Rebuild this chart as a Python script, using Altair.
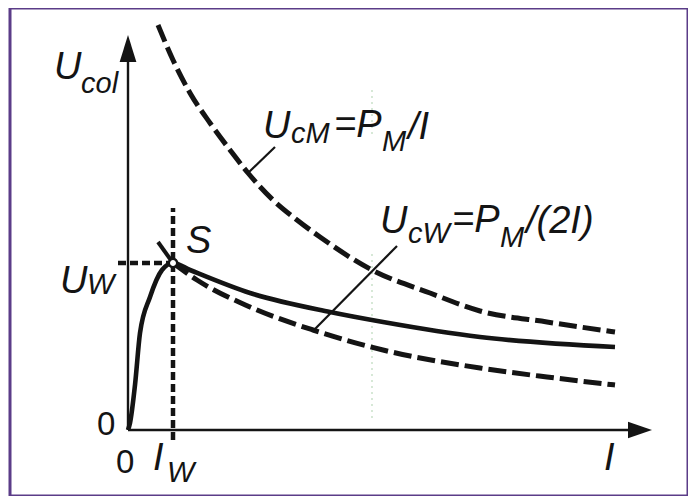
import altair as alt
import pandas as pd

# ---- data (arbitrary schematic units: I horizontal, U vertical) ----
# upper dashed hyperbola  U_cM = P_M / I
cm_I = [0.60, 0.90, 1.24, 1.64, 2.04, 2.40, 2.90, 3.38, 3.84, 4.88, 6.04, 7.04, 8.38, 9.74]
cm_U = [10.125, 9.25, 8.425, 7.675, 7.0, 6.425, 5.75, 5.25, 4.825, 4.0, 3.425, 2.975, 2.7, 2.45]

# solid collector curve U_col(I)
col_I = [0.0, 0.04, 0.14, 0.24, 0.44, 0.68, 0.90, 1.24, 2.44, 4.04, 5.10, 7.04, 9.74]
col_U = [0.0, 0.175, 1.125, 2.425, 3.325, 4.0, 4.175, 4.0, 3.425, 2.95, 2.7, 2.325, 2.075]

# lower dashed hyperbola  U_cW = P_M / (2I)
cw_I = [0.90, 1.38, 2.44, 3.70, 5.10, 7.04, 8.38, 9.74]
cw_U = [4.175, 3.75, 3.075, 2.5, 2.0, 1.55, 1.325, 1.125]
# short solid piece of that hyperbola above S
cws_I = [0.60, 0.90]
cws_U = [4.70, 4.175]

# working point S
S_I = [0.90]
S_U = [4.175]

# axis extents
x_axis_end = 10.0
y_axis_end = 9.2
x_arrow = 10.24
y_arrow = 9.54

# guide lines to U_W and I_W
uw_from = -0.2
iw_from = -0.25
iw_to = 5.55

# leader lines of the two formulas
lead_cm_I = [2.40, 2.94]
lead_cm_U = [6.425, 7.075]
lead_cw_I = [3.70, 5.38]
lead_cw_U = [2.475, 4.60]

# faint scan artefact (dotted vertical)
ghost_I = 4.88
ghost_lo = [0.30, 7.40]
ghost_hi = [4.40, 8.50]

# text pieces
big_text = ["U", "U", "U", "=P", "/I", "U", "=P", "/(2I)", "S", "I", "I"]
big_I = [-1.48, -1.36, 2.70, 4.12, 5.60, 5.04, 6.48, 7.96, 1.16, 0.50, 9.52]
big_U = [8.775, 3.425, 7.30, 7.325, 7.275, 4.925, 4.95, 4.925, 4.425, -1.0, -1.0]

sub_text = ["col", "W", "cM", "M", "cW", "M", "W"]
sub_I = [-0.94, -0.82, 3.26, 5.08, 5.60, 7.44, 0.78]
sub_U = [8.425, 3.40, 7.175, 6.975, 4.675, 4.575, -1.30]

zero_text = ["0", "0"]
zero_I = [-0.62, -0.24]
zero_U = [-0.125, -1.075]

# ---- chart ----
INK = "#141414"
FONT = "Liberation Sans"
xs = alt.Scale(domain=[-2.36, 11.2], nice=False, zero=False)
ys = alt.Scale(domain=[-1.65, 10.55], nice=False, zero=False)
X = alt.X("I:Q", scale=xs, axis=None)
Y = alt.Y("U:Q", scale=ys, axis=None)

ghost = alt.Chart(pd.DataFrame({"I": [ghost_I, ghost_I], "U": ghost_lo, "U2": ghost_hi})).mark_rule(
    color="#bcd9bc", strokeWidth=1.2, strokeDash=[2, 4]
).encode(x=X, y=Y, y2="U2:Q")

cm = alt.Chart(pd.DataFrame({"I": cm_I, "U": cm_U})).mark_line(
    color=INK, strokeWidth=5, strokeDash=[18, 6], interpolate="monotone"
).encode(x=X, y=Y)

col = alt.Chart(pd.DataFrame({"I": col_I, "U": col_U})).mark_line(
    color=INK, strokeWidth=4.6, interpolate="monotone"
).encode(x=X, y=Y)

cw = alt.Chart(pd.DataFrame({"I": cw_I, "U": cw_U})).mark_line(
    color=INK, strokeWidth=5, strokeDash=[18, 6], interpolate="monotone"
).encode(x=X, y=Y)

cws = alt.Chart(pd.DataFrame({"I": cws_I, "U": cws_U})).mark_line(
    color=INK, strokeWidth=4
).encode(x=X, y=Y)

axes_df = pd.DataFrame({"I": [0.0], "U": [0.0], "I2": [x_axis_end], "U2": [y_axis_end]})
x_axis = alt.Chart(axes_df).mark_rule(color=INK, strokeWidth=2.4).encode(
    x=X, x2="I2:Q", y=Y)
y_axis = alt.Chart(axes_df).mark_rule(color=INK, strokeWidth=2.4).encode(
    x=X, y=Y, y2="U2:Q")

x_head = alt.Chart(pd.DataFrame({"I": [x_arrow], "U": [0.0]})).mark_point(
    shape="M 1 0 L -1 -0.68 L -1 0.68 Z", size=576, filled=True, color=INK, opacity=1
).encode(x=X, y=Y)
y_head = alt.Chart(pd.DataFrame({"I": [0.0], "U": [y_arrow]})).mark_point(
    shape="M 0 -1 L 0.62 1 L -0.62 1 Z", size=729, filled=True, color=INK, opacity=1
).encode(x=X, y=Y)

guide_df = pd.DataFrame({"I": S_I, "U": S_U, "Ia": [uw_from], "Ub": [iw_from], "Ut": [iw_to]})
uw_line = alt.Chart(guide_df).mark_rule(color=INK, strokeWidth=4.5, strokeDash=[8, 4]).encode(
    x=alt.X("Ia:Q", scale=xs, axis=None), x2="I:Q", y=Y)
iw_line = alt.Chart(guide_df).mark_rule(color=INK, strokeWidth=4.5, strokeDash=[8, 4]).encode(
    x=X, y=alt.Y("Ub:Q", scale=ys, axis=None), y2="Ut:Q")

lead_cm = alt.Chart(pd.DataFrame({"I": lead_cm_I, "U": lead_cm_U})).mark_line(
    color=INK, strokeWidth=2.2).encode(x=X, y=Y)
lead_cw = alt.Chart(pd.DataFrame({"I": lead_cw_I, "U": lead_cw_U})).mark_line(
    color=INK, strokeWidth=2.2).encode(x=X, y=Y)

s_pt = alt.Chart(pd.DataFrame({"I": S_I, "U": S_U})).mark_point(
    shape="circle", size=70, filled=True, fill="white", stroke=INK, strokeWidth=2.4, opacity=1
).encode(x=X, y=Y)

big = alt.Chart(pd.DataFrame({"t": big_text, "I": big_I, "U": big_U})).mark_text(
    font=FONT, fontStyle="italic", fontSize=38, align="left", baseline="alphabetic", color=INK
).encode(x=X, y=Y, text="t:N")
sub = alt.Chart(pd.DataFrame({"t": sub_text, "I": sub_I, "U": sub_U})).mark_text(
    font=FONT, fontStyle="italic", fontSize=29, align="left", baseline="alphabetic", color=INK
).encode(x=X, y=Y, text="t:N")
zeros = alt.Chart(pd.DataFrame({"t": zero_text, "I": zero_I, "U": zero_U})).mark_text(
    font=FONT, fontSize=33, align="left", baseline="alphabetic", color=INK
).encode(x=X, y=Y, text="t:N")

chart = alt.layer(
    ghost, x_axis, y_axis, x_head, y_head, cm, cw, col, cws, uw_line, iw_line,
    lead_cm, lead_cw, s_pt, big, sub, zeros
).properties(
    width=678, height=488,
    padding={"left": 2, "top": 0, "right": 0, "bottom": 0},
    autosize=alt.AutoSizeParams(type="none"),
    background="white",
).configure_view(stroke="#5b3c88", strokeWidth=3)

chart.save("out.html", embed_options={"renderer": "svg", "actions": False})
